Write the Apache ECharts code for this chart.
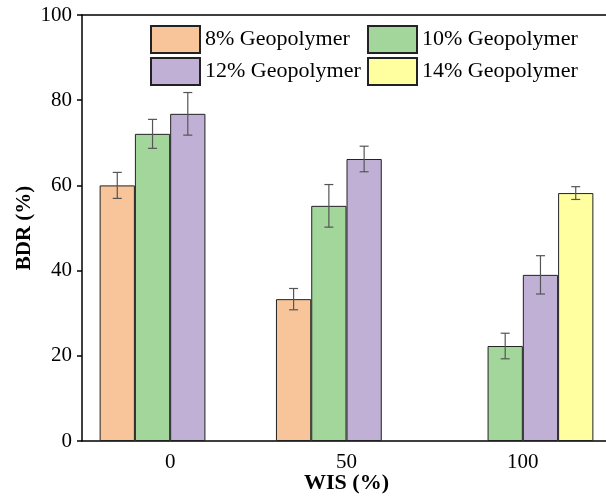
<!DOCTYPE html>
<html>
<head>
<meta charset="utf-8">
<script src="https://cdn.jsdelivr.net/npm/echarts@6/dist/echarts.min.js"></script>
<style>html,body{margin:0;padding:0;background:#fff;overflow:hidden;}#c{width:606px;height:497px;}</style>
</head>
<body>
<div id="c"></div>
<script>
const categories = ['0', '50', '100'];
const seriesNames = ['8% Geopolymer', '10% Geopolymer', '12% Geopolymer', '14% Geopolymer'];
const values8 = [60.0, 33.3, null];
const values10 = [72.1, 55.2, 22.3];
const values12 = [76.8, 66.2, 39.0];
const values14 = [null, null, 58.2];
const err8 = [3.05, 2.5, null];
const err10 = [3.4, 5.0, 3.0];
const err12 = [5.0, 3.0, 4.5];
const err14 = [null, null, 1.5];
const yTicks = [0, 20, 40, 60, 80, 100];

const colors = ['#F8C59A', '#A2D69B', '#C0B0D6', '#FFFFA0'];
const allValues = [values8, values10, values12, values14];
const allErrs = [err8, err10, err12, err14];
const font = "'Liberation Serif', 'Times New Roman', serif";
const barCatGap = 0.2;

const series = [];
allValues.forEach((vals, k) => {
  series.push({
    name: seriesNames[k], type: 'bar', data: vals,
    barGap: '0%', barCategoryGap: '20%',
    itemStyle: { color: colors[k], borderColor: '#222', borderWidth: 1 },
    z: 2
  });
});
allValues.forEach((vals, k) => {
  const d = [];
  vals.forEach((v, i) => { if (v != null && allErrs[k][i] != null) d.push([i, v, allErrs[k][i]]); });
  series.push({
    name: 'err' + k, type: 'custom', z: 5,
    encode: { x: 0, y: 1 },
    data: d,
    renderItem: function (params, api) {
      const xi = api.value(0), v = api.value(1), e = api.value(2);
      const band = api.size([1, 0])[0];
      const bw = band * (1 - barCatGap) / 4;
      const cx = api.coord([xi, v])[0] + (k - 1.5) * bw;
      const yt = api.coord([xi, v + e])[1];
      const yb = api.coord([xi, v - e])[1];
      const cap = 4.5;
      const st = { stroke: '#555', lineWidth: 1.2 };
      return { type: 'group', children: [
        { type: 'line', shape: { x1: cx, y1: yt, x2: cx, y2: yb }, style: st },
        { type: 'line', shape: { x1: cx - cap, y1: yt, x2: cx + cap, y2: yt }, style: st },
        { type: 'line', shape: { x1: cx - cap, y1: yb, x2: cx + cap, y2: yb }, style: st }
      ]};
    }
  });
});

const legendPos = [[150, 25], [367, 25], [150, 57], [367, 57]];
const legends = seriesNames.map((n, k) => ({
  data: [n], left: legendPos[k][0], top: legendPos[k][1],
  itemWidth: 49, itemHeight: 27, padding: 0,
  icon: 'rect',
  textStyle: { fontFamily: font, fontSize: 22, color: '#000' }
}));

const chart = echarts.init(document.getElementById('c'), null, { renderer: 'canvas' });
chart.setOption({
  animation: false,
  backgroundColor: '#fff',
  textStyle: { fontFamily: font },
  grid: { left: 82, top: 15, width: 529, height: 426, show: false, containLabel: false, outerBoundsMode: 'none' },
  legend: legends,
  xAxis: [{
    type: 'category', data: categories,
    name: 'WIS (%)', nameLocation: 'middle', nameGap: 31, nameMoveOverlap: false,
    nameTextStyle: { fontFamily: font, fontSize: 22, fontWeight: 'bold', color: '#000' },
    axisLine: { lineStyle: { color: '#000', width: 1.5 } },
    axisTick: { inside: true, length: 3, alignWithLabel: true, lineStyle: { color: '#000', width: 1.5 } },
    axisLabel: { fontFamily: font, fontSize: 21, color: '#000', margin: 11 }
  }, {
    type: 'category', data: categories, position: 'top',
    axisLine: { show: true, lineStyle: { color: '#000', width: 1.5 } },
    axisTick: { show: false }, axisLabel: { show: false }
  }],
  yAxis: {
    type: 'value', min: yTicks[0], max: yTicks[yTicks.length - 1], interval: 20,
    name: 'BDR (%)', nameLocation: 'middle', nameGap: 47, nameMoveOverlap: false,
    nameTextStyle: { fontFamily: font, fontSize: 21, fontWeight: 'bold', color: '#000' },
    axisLine: { show: true, lineStyle: { color: '#000', width: 1.5 } },
    axisTick: { show: true, inside: false, length: 5, lineStyle: { color: '#000', width: 1.5 } },
    axisLabel: { fontFamily: font, fontSize: 21, color: '#000', margin: 10 },
    splitLine: { show: false }
  },
  series: series
});
</script>
</body>
</html>
